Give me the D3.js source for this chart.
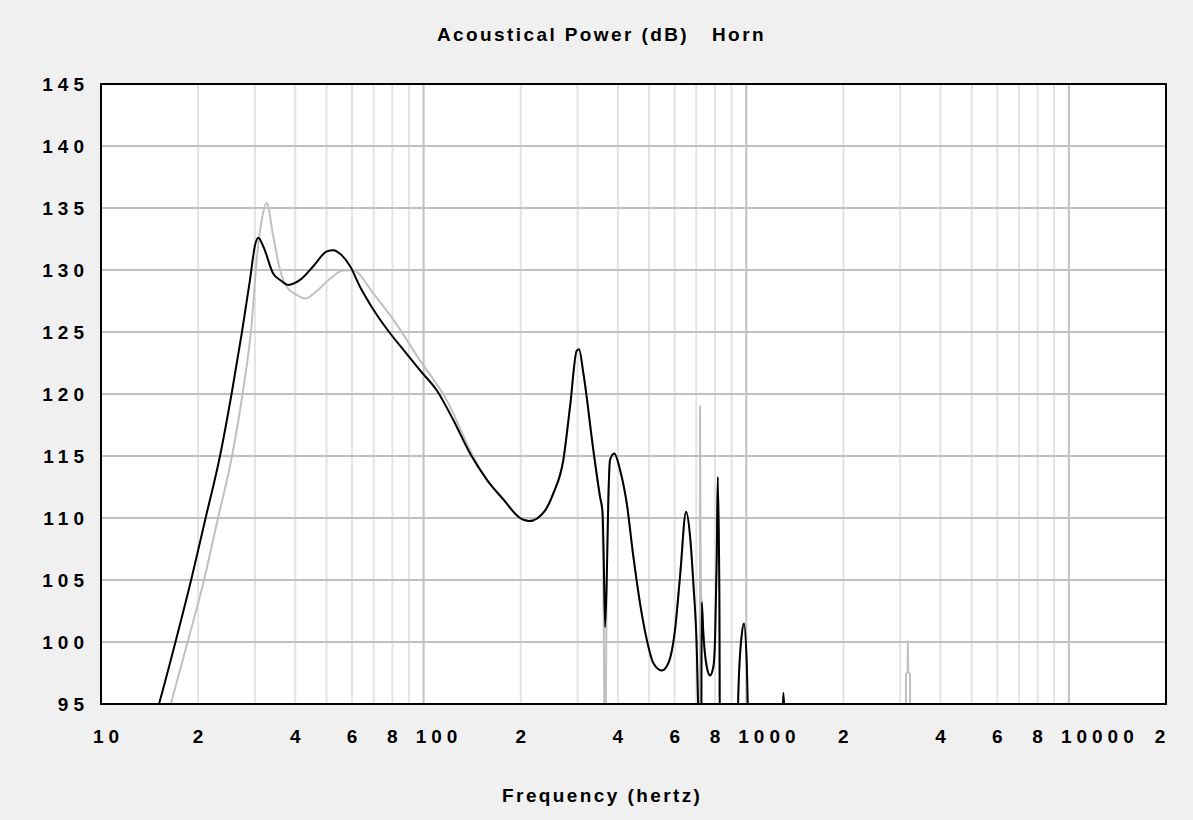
<!DOCTYPE html>
<html>
<head>
<meta charset="utf-8">
<script src="https://cdn.jsdelivr.net/npm/d3@7"></script>
<style>
  html, body { margin: 0; padding: 0; background: #f0f0f0; }
  svg { display: block; }
  text { font-family: "Liberation Sans", Arial, sans-serif; fill: #000; }
</style>
</head>
<body>
<svg id="chart" width="1193" height="820"></svg>
<script>
// ---- data ----
const chartTitle = "Acoustical Power (dB)";
const chartSubtitle = "Horn";
const xAxisTitle = "Frequency (hertz)";

const yTicks = [95, 100, 105, 110, 115, 120, 125, 130, 135, 140, 145];
const xTickValues = [10, 20, 40, 60, 80, 100, 200, 400, 600, 800, 1000, 2000, 4000, 6000, 8000, 10000, 20000];
const xTickLabels = ["10", "2", "4", "6", "8", "100", "2", "4", "6", "8", "1000", "2", "4", "6", "8", "10000", "2"];

// black series (frequency Hz, level dB)
const blackFreq = [14.5, 15.13, 17.17, 19.11, 21.01, 23.38, 25.43, 27.31, 28.96, 30.02, 30.73, 31.85, 34.2, 35.9, 38.07, 41.4, 45.5, 50.1, 52.5, 55.7, 59.2, 63.5, 69.9, 78.7, 87.6, 97.5, 109.8, 123.6, 139.3, 156.9, 176.6, 199.0, 212.2, 237.8, 252.5, 271.1, 284.4, 298.3, 303.2, 312.6, 335.7, 352.2, 358.5, 361.5, 365.1, 369.5, 373.7, 378.3, 390, 406.1, 426.1, 446.7, 468.7, 491.6, 515.2, 547, 573.5, 601.6, 623.5, 650.8, 669.7, 685.6, 702.5, 712, 716, 725, 727.9, 736.2, 754.4, 772.3, 790.7, 800.4, 810.2, 816.0, 825.3, 829, 936, 945.2, 968.5, 984.5, 1003.5, 1022.4, 1280, 1303, 1326];
const blackDb = [93.3, 95.0, 100.4, 105.2, 109.8, 115.0, 120.1, 124.9, 129.2, 132.0, 132.6, 131.9, 129.7, 129.2, 128.8, 129.2, 130.3, 131.5, 131.6, 131.2, 130.3, 128.65, 126.8, 124.9, 123.4, 121.9, 120.3, 117.9, 115.2, 113.1, 111.5, 110.0, 109.75, 110.6, 112.0, 114.7, 119.0, 123.5, 123.6, 121.7, 115.5, 111.7, 110.5, 107, 101.2, 105.0, 111.5, 114.7, 115.2, 113.9, 111.2, 106.9, 103.1, 100.2, 98.3, 97.7, 98.3, 101.0, 105.3, 110.5, 108.5, 104.7, 99.4, 93, 90, 90, 103.2, 100.7, 98.0, 97.3, 98.0, 100.2, 106.9, 113.3, 103.9, 90, 90, 95.9, 100.6, 101.5, 98.3, 90, 90, 95.9, 90];

// gray series (frequency Hz, level dB)
const grayFreq = [15.8, 16.45, 18.65, 20.86, 23.1, 25.43, 27.5, 29.32, 30.38, 31.48, 32.63, 34.2, 35.89, 37.63, 40.43, 42.9, 46.63, 51.28, 56.38, 60.55, 69.87, 80.56, 97.5, 117.9, 142.3, 156.9, 176.6, 199.0, 212.2, 237.8, 252.5, 271.1, 284.4, 298.3, 303.2, 312.6, 335.7, 352.2, 357, 362, 364.5, 366, 369, 373.7, 378.3, 390, 406.1, 426.1, 446.7, 468.7, 491.6, 515.2, 547, 573.5, 601.6, 623.5, 650.8, 669.7, 685.6, 702.5, 712, 716, 718, 719.2, 721.5, 724, 727.9, 736.2, 754.4, 772.3, 790.7, 800.4, 810.2, 816.0, 825.3, 829, 936, 945.2, 968.5, 984.5, 1003.5, 1022.4, 1280, 1303, 1326, 3120, 3127, 3163, 3168, 3180, 3219, 3226];
const grayDb = [93.3, 95, 100.2, 105, 110.1, 114.9, 120.1, 125.7, 130.8, 134.0, 135.4, 132.7, 130.0, 128.65, 128.0, 127.7, 128.3, 129.3, 129.95, 129.95, 128.1, 126.0, 122.7, 119.5, 115.0, 113.1, 111.5, 110.0, 109.75, 110.6, 112.0, 114.7, 119.0, 123.5, 123.6, 121.7, 115.5, 111.7, 110.8, 100, 90, 90, 104, 111.5, 114.7, 115.2, 113.9, 111.2, 106.9, 103.1, 100.2, 98.3, 97.7, 98.3, 101.0, 105.3, 110.5, 108.5, 104.7, 99.4, 93, 90, 90, 119.0, 108.5, 104, 103.2, 100.7, 98.0, 97.3, 98.0, 100.2, 106.9, 113.3, 103.9, 90, 90, 95.9, 100.6, 101.5, 98.3, 90, 90, 95.9, 90, 90, 97.4, 97.6, 100.1, 97.6, 97.4, 90];

// ---- layout ----
const W = 1193, H = 820;
const L = 101, R = 1166, T = 84, B = 704;

const svg = d3.select("#chart");
svg.append("rect").attr("width", W).attr("height", H).attr("fill", "#f0f0f0");

const x = d3.scaleLog().domain([10, 20000]).range([L, R]);
const y = d3.scaleLinear().domain([95, 145]).range([B, T]);

svg.append("rect").attr("x", L).attr("y", T).attr("width", R - L).attr("height", B - T).attr("fill", "#fff");

// vertical grid
const gridVals = [];
for (let d = 10; d <= 10000; d *= 10) {
  for (let m = 1; m <= 9; m++) {
    const v = d * m;
    if (v > 10 && v < 20000) gridVals.push({ v: v, major: m === 1 });
  }
}
svg.append("g").selectAll("line").data(gridVals.filter(g => !g.major)).join("line")
  .attr("x1", d => x(d.v)).attr("x2", d => x(d.v)).attr("y1", T).attr("y2", B)
  .attr("stroke", "#e3e3e3").attr("stroke-width", 2);
svg.append("g").selectAll("line").data(yTicks.slice(1, -1)).join("line")
  .attr("x1", L).attr("x2", R).attr("y1", d => y(d)).attr("y2", d => y(d))
  .attr("stroke", "#c0c0c0").attr("stroke-width", 2);
svg.append("g").selectAll("line").data(gridVals.filter(g => g.major)).join("line")
  .attr("x1", d => x(d.v)).attr("x2", d => x(d.v)).attr("y1", T).attr("y2", B)
  .attr("stroke", "#c0c0c0").attr("stroke-width", 2);

// clip
svg.append("clipPath").attr("id", "plotclip").append("rect")
  .attr("x", L).attr("y", T).attr("width", R - L).attr("height", B - T);

const line = d3.line().x(d => x(d[0])).y(d => y(d[1])).curve(d3.curveMonotoneX);
const grayData = grayFreq.map((f, i) => [f, grayDb[i]]);
const blackData = blackFreq.map((f, i) => [f, blackDb[i]]);

const plot = svg.append("g").attr("clip-path", "url(#plotclip)");
plot.append("path").datum(grayData).attr("d", line)
  .attr("fill", "none").attr("stroke", "#c0c0c0").attr("stroke-width", 2);
plot.append("path").datum(blackData).attr("d", line)
  .attr("fill", "none").attr("stroke", "#000").attr("stroke-width", 2);

// border
svg.append("rect").attr("x", L).attr("y", T).attr("width", R - L).attr("height", B - T)
  .attr("fill", "none").attr("stroke", "#000").attr("stroke-width", 2);

// y tick labels
const tickLS = 5;
svg.append("g").selectAll("text").data(yTicks).join("text")
  .attr("x", 84 + tickLS).attr("y", d => y(d)).attr("dy", "0.36em")
  .attr("text-anchor", "end")
  .style("font-size", "19px").style("font-weight", "bold").style("letter-spacing", tickLS + "px")
  .text(d => d);

// x tick labels
svg.append("g").selectAll("text").data(xTickValues).join("text")
  .attr("x", (d, i) => {
    const lab = xTickLabels[i];
    if (lab.length > 1) return x(d) - 8;
    if (i === xTickValues.length - 1) return x(d) - 6 + tickLS / 2;
    return x(d) + tickLS / 2;
  })
  .attr("y", 743)
  .attr("text-anchor", (d, i) => xTickLabels[i].length > 1 ? "start" : "middle")
  .style("font-size", "19px").style("font-weight", "bold").style("letter-spacing", tickLS + "px")
  .text((d, i) => xTickLabels[i]);

// titles
svg.append("text").attr("x", 437).attr("y", 41)
  .style("font-size", "19px").style("font-weight", "bold").style("letter-spacing", "2.4px")
  .text(chartTitle);
svg.append("text").attr("x", 712).attr("y", 41)
  .style("font-size", "19px").style("font-weight", "bold").style("letter-spacing", "2.4px")
  .text(chartSubtitle);
svg.append("text").attr("x", 601 + 1.2).attr("y", 802).attr("text-anchor", "middle")
  .style("font-size", "19px").style("font-weight", "bold").style("letter-spacing", "2.4px")
  .text(xAxisTitle);
</script>
</body>
</html>
